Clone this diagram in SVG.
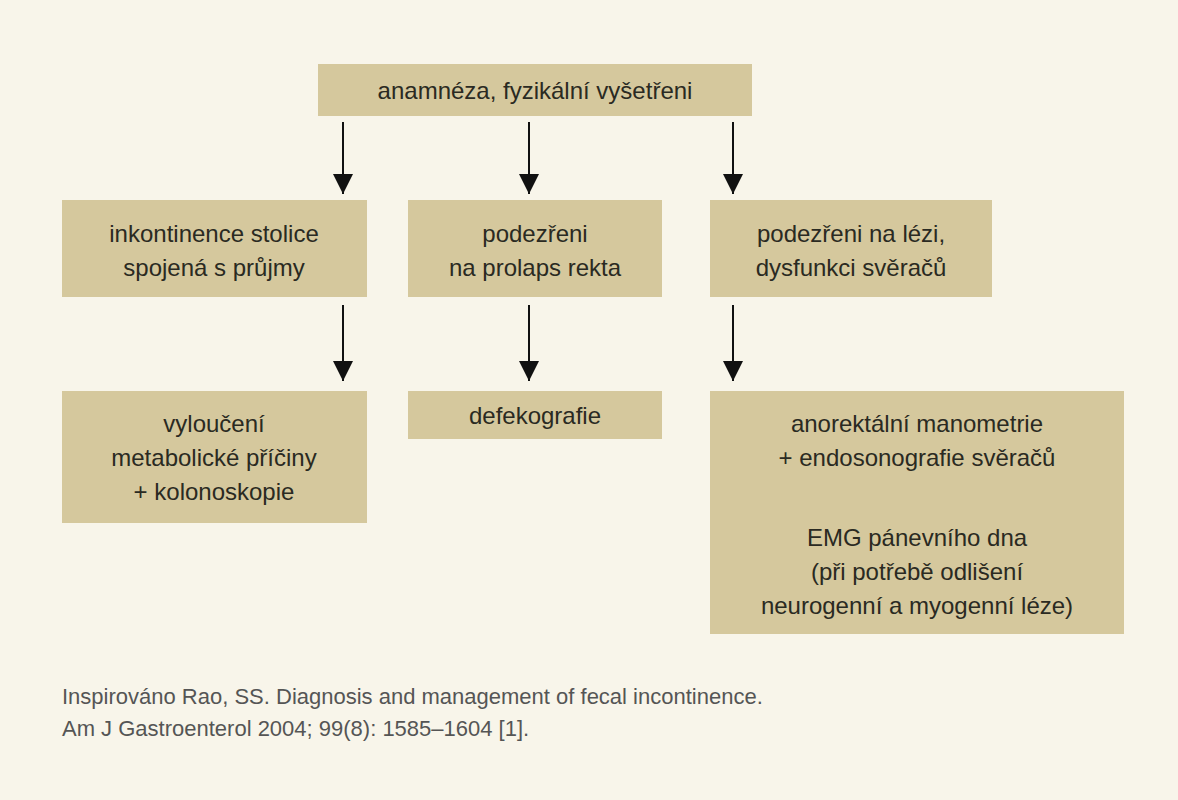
<svg xmlns="http://www.w3.org/2000/svg" width="1178" height="800" viewBox="0 0 1178 800">
<style>
.b{fill:#d5c89d}
text{font-family:"Liberation Sans",Arial,sans-serif;font-size:24px;fill:#2a2a22;text-anchor:middle}
.f{font-size:22px;fill:#555;text-anchor:start}
.c line{stroke:#111;stroke-width:2}
</style>
<defs><marker id="a" viewBox="0 0 10 10" refX="10" refY="5" markerWidth="20" markerHeight="22" markerUnits="userSpaceOnUse" orient="auto"><path d="M0,0L10,5L0,10z" fill="#111"/></marker></defs>
<rect width="1178" height="800" fill="#f8f5ea"/>
<g id="n0"><rect class="b" x="318" y="64" width="434" height="52"/><text x="535" y="99">anamnéza, fyzikální vyšetřeni</text></g>
<g id="n1"><rect class="b" x="62" y="200" width="305" height="97"/><text x="214" y="242">inkontinence stolice</text><text x="214" y="276">spojená s průjmy</text></g>
<g id="n2"><rect class="b" x="408" y="200" width="254" height="97"/><text x="535" y="242">podezřeni</text><text x="535" y="276">na prolaps rekta</text></g>
<g id="n3"><rect class="b" x="710" y="200" width="282" height="97"/><text x="851" y="242">podezřeni na lézi,</text><text x="851" y="276">dysfunkci svěračů</text></g>
<g id="n4"><rect class="b" x="62" y="391" width="305" height="132"/><text x="214" y="432">vyloučení</text><text x="214" y="466">metabolické příčiny</text><text x="214" y="500">+ kolonoskopie</text></g>
<g id="n5"><rect class="b" x="408" y="391" width="254" height="48"/><text x="535" y="424">defekografie</text></g>
<g id="n6"><rect class="b" x="710" y="391" width="414" height="243"/><text x="917" y="432">anorektální manometrie</text><text x="917" y="466">+ endosonografie svěračů</text><text x="917" y="546">EMG pánevního dna</text><text x="917" y="580">(při potřebě odlišení</text><text x="917" y="614">neurogenní a myogenní léze)</text></g>
<g class="c">
<line x1="343" y1="122" x2="343" y2="194" marker-end="url(#a)"/>
<line x1="529" y1="122" x2="529" y2="194" marker-end="url(#a)"/>
<line x1="733" y1="122" x2="733" y2="194" marker-end="url(#a)"/>
<line x1="343" y1="305" x2="343" y2="381" marker-end="url(#a)"/>
<line x1="529" y1="305" x2="529" y2="381" marker-end="url(#a)"/>
<line x1="733" y1="305" x2="733" y2="381" marker-end="url(#a)"/>
</g>
<text class="f" x="62" y="704">Inspirováno Rao, SS. Diagnosis and management of fecal incontinence.</text>
<text class="f" x="62" y="736">Am J Gastroenterol 2004; 99(8): 1585–1604 [1].</text>
</svg>
